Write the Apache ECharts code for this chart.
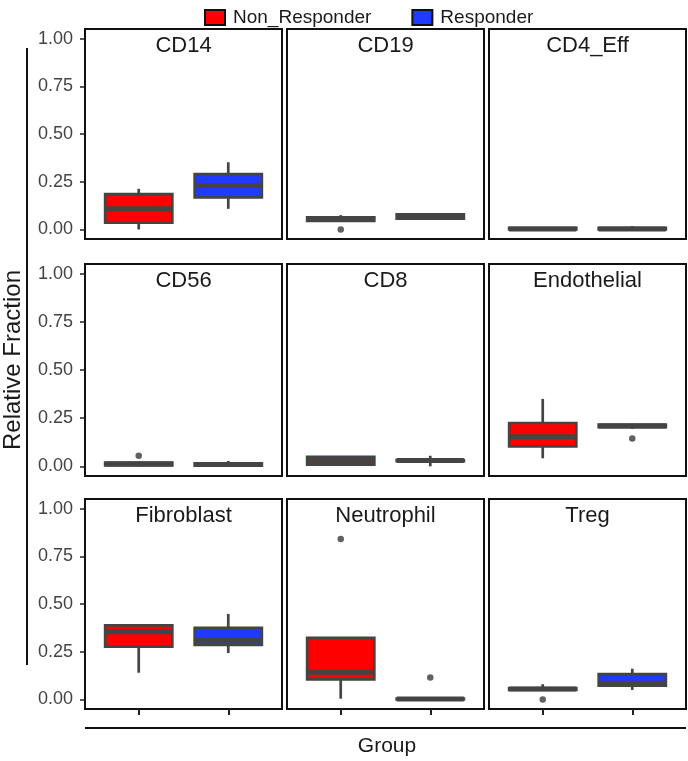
<!DOCTYPE html>
<html>
<head>
<meta charset="utf-8">
<script src="https://cdn.jsdelivr.net/npm/echarts@6/dist/echarts.min.js"></script>
<style>html,body{margin:0;padding:0;background:#fff;}#chart{width:688px;height:761px;}</style>
</head>
<body>
<div id="chart"></div>
<script>
// ---- data ----
const cellTypes = ['CD14', 'CD19', 'CD4_Eff', 'CD56', 'CD8', 'Endothelial', 'Fibroblast', 'Neutrophil', 'Treg'];
const groups = ['Non_Responder', 'Responder'];
// box stats: [min, q1, median, q3, max]
const nonResponderStats = [
  [0.000, 0.035, 0.108, 0.185, 0.213],
  [0.040, 0.045, 0.055, 0.064, 0.075],
  [0.000, 0.000, 0.003, 0.008, 0.010],
  [0.000, 0.005, 0.012, 0.020, 0.025],
  [0.005, 0.009, 0.030, 0.049, 0.052],
  [0.042, 0.104, 0.154, 0.225, 0.350],
  [0.140, 0.277, 0.354, 0.388, 0.395],
  [0.004, 0.105, 0.142, 0.323, 0.323],
  [0.045, 0.050, 0.055, 0.060, 0.080]
];
const responderStats = [
  [0.108, 0.168, 0.230, 0.290, 0.352],
  [0.052, 0.057, 0.068, 0.079, 0.085],
  [0.000, 0.000, 0.003, 0.008, 0.017],
  [0.000, 0.004, 0.010, 0.015, 0.028],
  [0.000, 0.027, 0.030, 0.033, 0.055],
  [0.195, 0.203, 0.210, 0.217, 0.222],
  [0.243, 0.286, 0.310, 0.375, 0.448],
  [0.000, 0.000, 0.002, 0.005, 0.008],
  [0.050, 0.072, 0.085, 0.133, 0.161]
];
const nonResponderOutliers = [[], [0.000], [], [0.055], [], [], [], [0.840], [0.000]];
const responderOutliers = [[], [], [], [], [], [0.144], [], [0.115], []];
const yTicks = [0, 0.25, 0.5, 0.75, 1.0];
const groupColors = ['#FF0000', '#1F3BFF'];

// ---- layout ----
const panelLeft = [85, 287, 489];
const panelWidth = 197;
const panelTop = [29, 264, 499];
const panelHeight = [210, 212, 210];
const inset = panelWidth * 0.1 / 2.2;
const FONT = 'Liberation Sans, Arial, sans-serif';
const edge = '#444444';

function renderBox(params, api) {
  const c = api.value(0);
  const lo = api.coord([c, api.value(1)]);
  const q1 = api.coord([c, api.value(2)]);
  const md = api.coord([c, api.value(3)]);
  const q3 = api.coord([c, api.value(4)]);
  const hi = api.coord([c, api.value(5)]);
  const w = api.size([1, 0])[0] * 0.75;
  const x = q1[0];
  const lineStyle = { stroke: edge, lineWidth: 2.7 };
  return {
    type: 'group',
    children: [
      { type: 'line', shape: { x1: x, y1: q3[1], x2: x, y2: hi[1] }, style: lineStyle },
      { type: 'line', shape: { x1: x, y1: q1[1], x2: x, y2: lo[1] }, style: lineStyle },
      { type: 'rect', shape: { x: x - w / 2, y: q3[1], width: w, height: q1[1] - q3[1] },
        style: { fill: api.visual('color'), stroke: edge, lineWidth: 2.7 } },
      { type: 'line', shape: { x1: x - w / 2, y1: md[1], x2: x + w / 2, y2: md[1] },
        style: { stroke: edge, lineWidth: 5 } }
    ]
  };
}

const grid = [], xAxis = [], yAxis = [], series = [], graphic = [];
cellTypes.forEach((name, i) => {
  const r = Math.floor(i / 3), c = i % 3;
  // frame grid
  grid.push({ left: panelLeft[c], top: panelTop[r], width: panelWidth, height: panelHeight[r],
    show: true, borderColor: '#111', borderWidth: 2, backgroundColor: '#fff' });
  xAxis.push({ gridIndex: i, type: 'value', min: 0, max: 1, show: false });
  yAxis.push({ gridIndex: i, type: 'value', min: -0.05, max: 1.05, show: c === 0,
    axisLine: { show: false }, splitLine: { show: false },
    axisTick: { show: true, length: 5, customValues: yTicks, lineStyle: { color: '#222', width: 1.5 } },
    axisLabel: { customValues: yTicks, formatter: v => v.toFixed(2), fontSize: 18, color: '#444',
      fontFamily: FONT, margin: 12 } });
  graphic.push({ type: 'text', x: panelLeft[c] + panelWidth / 2, y: panelTop[r] + 17,
    style: { text: name, fontSize: 22, fontFamily: FONT, fill: '#1A1A1A', align: 'center', verticalAlign: 'middle' } });
});
cellTypes.forEach((name, i) => {
  const r = Math.floor(i / 3), c = i % 3;
  const g = 9 + i;
  grid.push({ left: panelLeft[c] + inset, top: panelTop[r], width: panelWidth - 2 * inset, height: panelHeight[r], show: false });
  xAxis.push({ gridIndex: g, type: 'category', data: groups, boundaryGap: true, position: 'bottom',
    axisLine: { show: false, onZero: false }, axisLabel: { show: false, interval: 0 },
    axisTick: { show: r === 2, interval: 0, alignWithLabel: true, length: 6, lineStyle: { color: '#222', width: 2 } } });
  yAxis.push({ gridIndex: g, type: 'value', min: -0.05, max: 1.05, show: false });
  const statsList = [nonResponderStats[i], responderStats[i]];
  const outList = [nonResponderOutliers[i], responderOutliers[i]];
  groups.forEach((gname, k) => {
    series.push({ type: 'custom', name: gname, xAxisIndex: g, yAxisIndex: g,
      itemStyle: { color: groupColors[k] }, renderItem: renderBox, z: 3,
      data: [[k].concat(statsList[k])] });
    series.push({ type: 'scatter', name: gname + '_outlier', xAxisIndex: g, yAxisIndex: g,
      symbolSize: 6.5, itemStyle: { color: '#3a3a3a' }, z: 4,
      data: outList[k].map(v => [k, v]) });
  });
});

graphic.push({ type: 'line', shape: { x1: 27, y1: 48, x2: 27, y2: 665 }, style: { stroke: '#111', lineWidth: 2 } });
graphic.push({ type: 'text', x: 13, y: 360, rotation: Math.PI / 2,
  style: { text: 'Relative Fraction', fontSize: 24, fontFamily: FONT, fill: '#1A1A1A', align: 'center', verticalAlign: 'middle' } });
graphic.push({ type: 'line', shape: { x1: 85, y1: 728, x2: 686, y2: 728 }, style: { stroke: '#111', lineWidth: 2 } });
graphic.push({ type: 'text', x: 387, y: 746,
  style: { text: 'Group', fontSize: 21, fontFamily: FONT, fill: '#1A1A1A', align: 'center', verticalAlign: 'middle' } });

const chart = echarts.init(document.getElementById('chart'), null, { renderer: 'canvas' });
chart.setOption({
  animation: false,
  backgroundColor: '#fff',
  legend: { data: groups, left: 199, top: 3, icon: 'rect', itemWidth: 20, itemHeight: 15, itemGap: 40,
    itemStyle: { borderColor: '#111', borderWidth: 2 },
    textStyle: { fontSize: 19, fontFamily: FONT, color: '#1A1A1A', padding: [0, 0, 0, 3] } },
  grid, xAxis, yAxis, series, graphic
});
</script>
</body>
</html>
